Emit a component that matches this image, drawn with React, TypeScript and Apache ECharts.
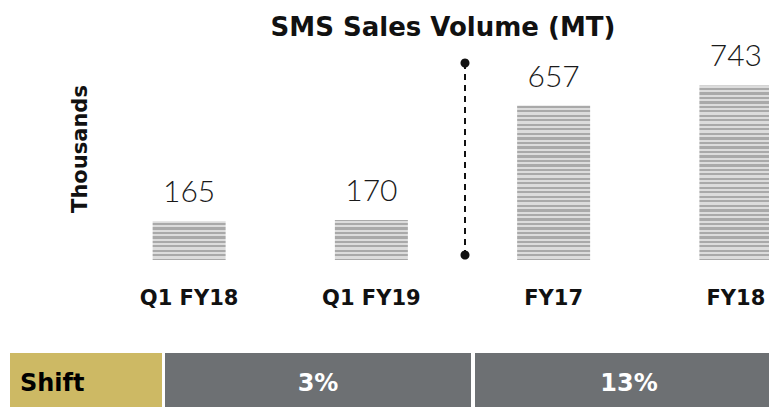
import React, { useEffect, useRef } from "react";
import * as echarts from "echarts";

const categories = ["Q1 FY18", "Q1 FY19", "FY17", "FY18"];
const salesValues = [165, 170, 657, 743];
const shiftHeader = "Shift";
const shiftLabels = ["3%", "13%"];

const W = 769;
const H = 407;
const INNER_W = 860;

function stripeFill() {
  const period = 4.5;
  const lightH = 2.4;
  const stops: { offset: number; color: string }[] = [];
  const light = "#dcdcdc";
  const dark = "#a9a9a9";
  for (let y = 0; y < H; y += period) {
    const a = y / H;
    const b = Math.min((y + lightH) / H, 1);
    const c = Math.min((y + period) / H, 1);
    stops.push({ offset: a, color: light });
    stops.push({ offset: b, color: light });
    stops.push({ offset: b, color: dark });
    stops.push({ offset: c, color: dark });
  }
  return { type: "linear", x: 0, y: 0, x2: 0, y2: H, global: true, colorStops: stops };
}

export default function App() {
  const ref = useRef<HTMLDivElement>(null);
  useEffect(() => {
    if (!ref.current) return;
    const chart = echarts.init(ref.current, null, { renderer: "svg" });
    const boldFont = "DejaVu Sans";
    chart.setOption({
      animation: false,
      grid: { left: 98, right: INNER_W - 827, top: 72, bottom: 147 },
      xAxis: {
        type: "category",
        data: categories,
        axisLine: { show: false },
        axisTick: { show: false },
        axisLabel: {
          margin: 27,
          fontSize: 21,
          fontWeight: "bold",
          fontFamily: boldFont,
          color: "#111",
        },
      },
      yAxis: { type: "value", min: 0, max: 800, show: false },
      series: [
        {
          type: "bar",
          data: salesValues,
          barWidth: 73,
          itemStyle: { color: stripeFill() },
          label: {
            show: true,
            position: "top",
            distance: 16,
            fontSize: 30,
            fontWeight: 300,
            fontFamily: "Lato",
            color: "#1a1a1a",
          },
        },
      ],
      graphic: [
        {
          type: "text",
          x: 443,
          y: 27,
          style: {
            text: "SMS Sales Volume (MT)",
            fontSize: 26,
            fontWeight: "bold",
            fontFamily: boldFont,
            fill: "#111",
            textAlign: "center",
            textVerticalAlign: "middle",
          },
        },
        {
          type: "text",
          x: 80,
          y: 149,
          rotation: Math.PI / 2,
          style: {
            text: "Thousands",
            fontSize: 21,
            fontWeight: "bold",
            fontFamily: boldFont,
            fill: "#111",
            textAlign: "center",
            textVerticalAlign: "middle",
          },
        },
        {
          type: "line",
          shape: { x1: 465, y1: 63, x2: 465, y2: 255 },
          style: { stroke: "#111", lineWidth: 2, lineDash: [6, 5] },
        },
        { type: "circle", shape: { cx: 465, cy: 63, r: 4.5 }, style: { fill: "#111" } },
        { type: "circle", shape: { cx: 465, cy: 255, r: 4.5 }, style: { fill: "#111" } },
        { type: "rect", shape: { x: 10, y: 353, width: 152, height: 60 }, style: { fill: "#cdb964" } },
        { type: "rect", shape: { x: 165, y: 353, width: 306, height: 60 }, style: { fill: "#6d7073" } },
        { type: "rect", shape: { x: 475, y: 353, width: 310, height: 60 }, style: { fill: "#6d7073" } },
        {
          type: "text",
          x: 20,
          y: 383,
          style: {
            text: shiftHeader,
            fontSize: 24,
            fontWeight: "bold",
            fontFamily: boldFont,
            fill: "#000",
            textAlign: "left",
            textVerticalAlign: "middle",
          },
        },
        ...shiftLabels.map((t, i) => ({
          type: "text",
          x: i === 0 ? 318 : 629,
          y: 383,
          style: {
            text: t,
            fontSize: 24,
            fontWeight: "bold",
            fontFamily: boldFont,
            fill: "#fff",
            textAlign: "center",
            textVerticalAlign: "middle",
          },
        })),
      ],
    });
    return () => chart.dispose();
  }, []);
  return (
    <div
      style={{
        position: "absolute",
        left: 0,
        top: 0,
        width: W,
        height: H,
        overflow: "hidden",
      }}
    >
      <div ref={ref} style={{ width: INNER_W, height: H }} />
    </div>
  );
}
